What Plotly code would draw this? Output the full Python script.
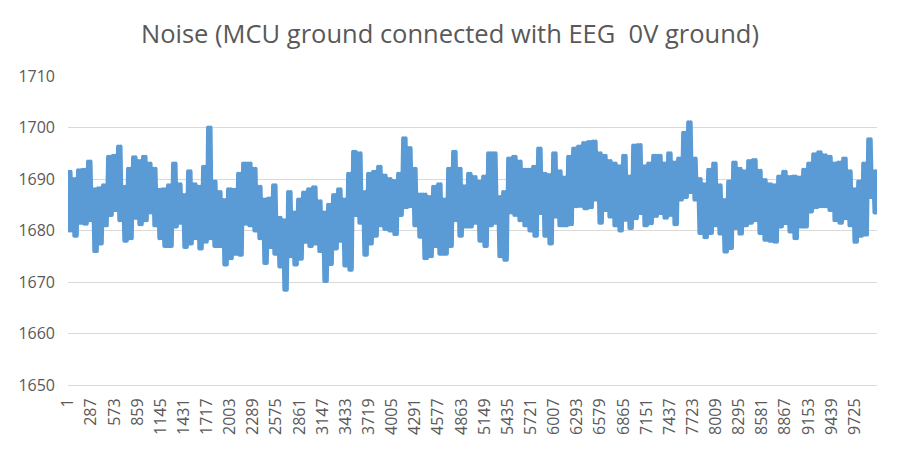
import numpy as np
import plotly.graph_objects as go

# Envelope of the noisy signal, one pair per block of samples
HIGH = [
    1691.4, 1690.0, 1691.7, 1691.8, 1693.4, 1688.0, 1688.2, 1688.8, 1694.3, 1694.5,
    1696.3, 1688.5, 1692.0, 1694.2, 1693.5, 1694.3, 1693.0, 1692.0, 1687.9, 1688.0,
    1688.8, 1693.0, 1689.0, 1686.9, 1691.5, 1689.0, 1688.5,
    1692.4, 1700.0, 1689.5, 1687.5, 1685.9, 1688.0, 1687.9, 1691.0, 1693.0, 1693.0,
    1692.0, 1688.5, 1686.0, 1686.2, 1688.8, 1682.5, 1682.0, 1687.5, 1683.5, 1686.0,
    1687.4, 1688.0, 1688.4, 1685.7, 1683.5, 1685.0, 1686.9, 1688.0,
    1686.0, 1691.0, 1695.3, 1695.0, 1687.5, 1691.0, 1691.4, 1692.4, 1690.7, 1690.0,
    1689.6, 1691.0, 1697.9, 1696.0, 1692.0, 1687.0, 1687.0, 1686.5, 1688.5, 1689.0,
    1686.0, 1692.0, 1695.3, 1692.0, 1688.6, 1691.0, 1690.4, 1689.5,
    1690.5, 1695.0, 1695.0, 1686.5, 1687.5, 1694.0, 1694.3, 1693.4, 1691.8, 1691.8,
    1692.4, 1695.9, 1691.0, 1690.8, 1695.0, 1691.5, 1690.3, 1694.3, 1695.9, 1696.3,
    1697.0, 1697.2, 1697.3, 1695.0, 1694.5, 1693.5, 1693.0, 1692.5,
    1694.5, 1690.5, 1696.5, 1696.6, 1692.5, 1693.0, 1694.5, 1694.5, 1693.0, 1695.0,
    1693.2, 1694.0, 1699.0, 1701.0, 1694.0, 1690.0, 1689.0, 1691.8, 1693.0, 1688.8,
    1685.9, 1689.5, 1693.2, 1692.0, 1691.5, 1693.5, 1693.7, 1691.6,
    1689.8, 1689.0, 1688.8, 1690.5, 1691.4, 1690.4, 1690.5, 1690.3, 1691.8, 1693.0,
    1694.8, 1695.2, 1694.6, 1694.3, 1693.0, 1693.2, 1694.0, 1691.5, 1688.0, 1689.5,
    1693.0, 1697.7, 1691.5,
]
LOW = [
    1680.0, 1679.0, 1681.5, 1681.3, 1682.0, 1676.0, 1677.5, 1681.0, 1683.0, 1684.0,
    1682.0, 1678.0, 1678.5, 1682.5, 1681.2, 1682.0, 1683.5, 1681.0, 1678.5, 1677.0,
    1677.0, 1680.8, 1681.5, 1676.8, 1677.5, 1678.5, 1676.5,
    1677.8, 1678.5, 1677.0, 1677.0, 1673.4, 1674.6, 1675.5, 1675.3, 1681.3, 1681.0,
    1680.0, 1678.5, 1673.7, 1676.8, 1675.5, 1673.0, 1668.5, 1675.0, 1673.4, 1674.5,
    1677.8, 1677.0, 1677.5, 1676.0, 1670.2, 1673.5, 1676.5, 1678.0,
    1673.2, 1672.4, 1683.0, 1681.5, 1675.3, 1677.5, 1679.0, 1681.0, 1680.3, 1680.0,
    1679.3, 1683.0, 1684.5, 1684.7, 1681.0, 1678.8, 1674.6, 1675.0, 1677.0, 1675.5,
    1675.5, 1677.0, 1682.0, 1679.0, 1680.8, 1680.8, 1681.5, 1678.0,
    1677.0, 1681.0, 1681.5, 1675.0, 1674.3, 1683.5, 1683.0, 1682.0, 1681.0, 1680.0,
    1679.0, 1683.4, 1679.0, 1677.5, 1682.7, 1681.0, 1681.0, 1681.2, 1684.7, 1684.8,
    1684.3, 1684.5, 1686.0, 1681.5, 1684.0, 1682.7, 1681.0, 1680.0,
    1682.1, 1680.5, 1682.4, 1683.4, 1681.0, 1681.4, 1682.8, 1683.4, 1682.5, 1683.0,
    1681.2, 1686.0, 1686.5, 1687.5, 1686.0, 1679.5, 1678.7, 1679.5, 1681.0, 1679.4,
    1675.9, 1676.6, 1680.5, 1679.4, 1681.0, 1681.5, 1682.0, 1679.5,
    1678.2, 1678.0, 1677.8, 1680.8, 1681.4, 1679.8, 1678.5, 1680.8, 1680.8, 1683.7,
    1684.5, 1684.7, 1684.7, 1684.0, 1682.0, 1681.5, 1682.4, 1681.0, 1677.8, 1679.0,
    1679.2, 1686.5, 1683.5,
]
N_SAMPLES = 10000
TICK_LABELS = [
    "1", "287", "573", "859", "1145", "1431", "1717", "2003", "2289", "2575",
    "2861", "3147", "3433", "3719", "4005", "4291", "4577", "4863", "5149", "5435",
    "5721", "6007", "6293", "6579", "6865", "7151", "7437", "7723", "8009", "8295",
    "8581", "8867", "9153", "9439", "9725",
]
Y_TICKS = [1650, 1660, 1670, 1680, 1690, 1700, 1710]
TITLE = "Noise (MCU ground connected with EEG\u00a0 0V ground)"

# Each block of samples swings between its high and low a few times
SWINGS_PER_BLOCK = 2
n = min(len(HIGH), len(LOW))
ys = []
for i in range(n):
    for _ in range(SWINGS_PER_BLOCK):
        ys.append(HIGH[i])
        ys.append(LOW[i])
xs = np.linspace(1, N_SAMPLES, len(ys))

fig = go.Figure()
fig.add_trace(go.Scatter(
    x=xs, y=ys, mode="lines",
    line=dict(color="#5B9BD5", width=4),
    hoverinfo="skip", showlegend=False,
))

tickvals = [int(t) for t in TICK_LABELS]
fig.update_layout(
    width=900, height=450,
    margin=dict(l=68, r=23, t=76, b=65, autoexpand=False),
    paper_bgcolor="white", plot_bgcolor="white",
    title=dict(text=TITLE, x=0.5, xanchor="center", y=0.925, yanchor="middle",
               font=dict(family="Open Sans", size=25.5, color="#595959")),
    font=dict(family="Open Sans", color="#595959"),
    showlegend=False,
)
fig.update_yaxes(
    range=[1650, 1710], tickvals=Y_TICKS, showgrid=True, gridcolor="#D9D9D9",
    gridwidth=1, zeroline=False, showline=False, ticks="",
    tickfont=dict(family="Open Sans", size=16, color="#595959"),
    ticklabelstandoff=12,
)
fig.update_xaxes(
    range=[0.5, N_SAMPLES + 0.5], tickvals=tickvals, ticktext=TICK_LABELS,
    tickangle=-90, showgrid=False, zeroline=False, showline=True,
    linecolor="#D9D9D9", linewidth=1, ticks="",
    tickfont=dict(family="Open Sans", size=16, color="#595959"),
    ticklabelstandoff=6,
)

# Round line joins and caps, as in the original spreadsheet chart
post = """
var gd = document.getElementsByClassName('plotly-graph-div')[0];
function roundLines(){
  gd.querySelectorAll('.scatterlayer path.js-line').forEach(function(p){
    p.style.strokeLinejoin = 'round';
    p.style.strokeLinecap = 'round';
  });
}
roundLines();
gd.on && gd.on('plotly_afterplot', roundLines);
"""
fig.write_html("out.html", post_script=post)
